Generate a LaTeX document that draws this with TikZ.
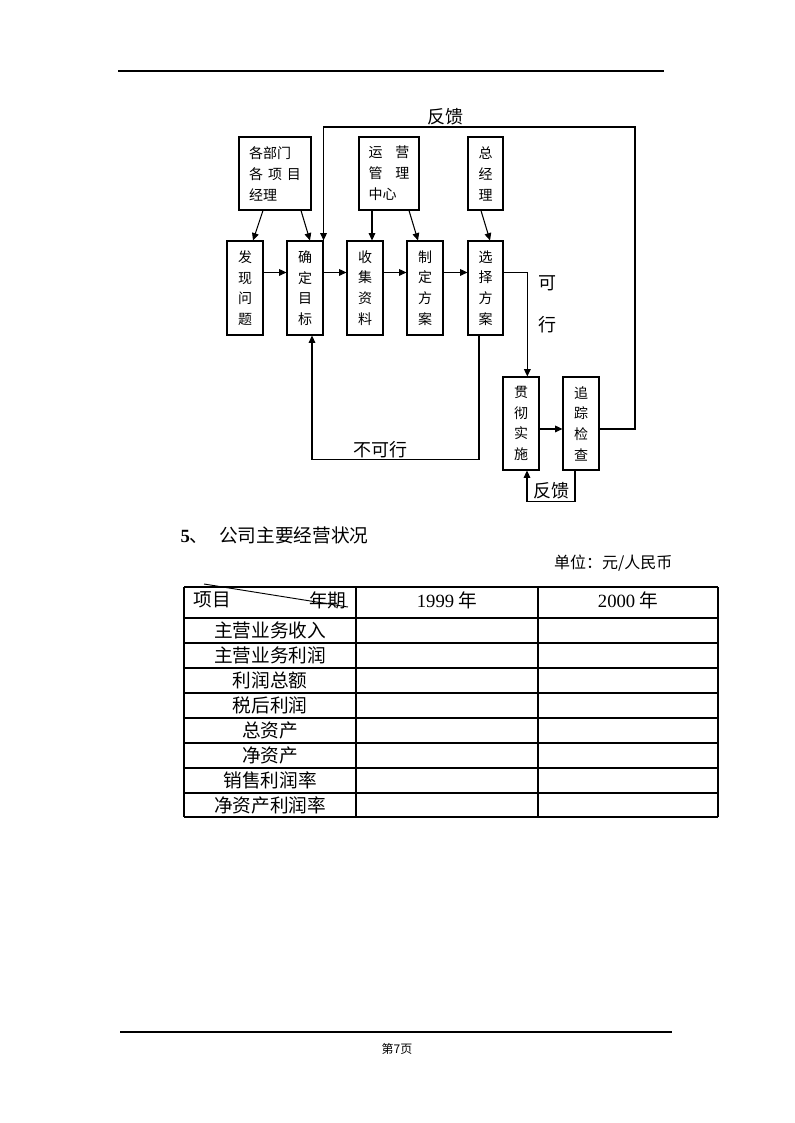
\documentclass[tikz,border=0pt]{standalone}
\usepackage{fontspec}
\setmainfont{Liberation Serif}
\newfontfamily\cjk{Noto Sans CJK SC}
\usetikzlibrary{arrows.meta}
\begin{document}
\begin{tikzpicture}[x=0.75pt,y=-0.75pt, line width=0.8pt,
  box/.style={draw, inner sep=0pt, font=\cjk\fontsize{10.5}{15.5}\selectfont, align=center,
              minimum width=27pt, minimum height=70.5pt},
  topbox/.style={box, minimum height=54.75pt, font=\cjk\fontsize{10.5}{15.75}\selectfont},
  arr/.style={-{Triangle[length=5.5pt,width=5pt]}},
  lbl/.style={font=\cjk\fontsize{13.5}{16}\selectfont, inner sep=0pt},
  cell/.style={font=\cjk\fontsize{14}{16}\selectfont, inner sep=0pt},
  tline/.style={line width=0.8pt}]
\useasboundingbox (0,0) rectangle (794,1123);

% header / footer rules
\coordinate (hl) at (118,71);
\coordinate (hr) at (664,71);
\draw (hl) -- (hr);
\coordinate (fl) at (120,1032);
\coordinate (fr) at (672,1032);
\draw (fl) -- (fr);
\node[font=\cjk\fontsize{9}{10}\selectfont, inner sep=0pt] (page) at (397,1049) {第7页};

% top boxes
\node[topbox, minimum width=54pt, align=left] (A) at (275,173.5) {各部门\\各\hspace{0.35em}项\hspace{0.35em}目\\经理};
\node[topbox, minimum width=45pt, align=left] (B) at (389,173.5) {运\hspace{0.9em}营\\管\hspace{0.9em}理\\中心};
\node[topbox, minimum width=26.25pt] (C) at (485.5,173.5) {总\\经\\理};

% row boxes
\node[box] (D) at (245,288) {发\\现\\问\\题};
\node[box] (E) at (305,288) {确\\定\\目\\标};
\node[box] (F) at (365,288) {收\\集\\资\\料};
\node[box] (G) at (425,288) {制\\定\\方\\案};
\node[box, minimum width=26.25pt] (H) at (485.5,288) {选\\择\\方\\案};
\node[box, minimum height=69.75pt] (I) at (521,423.5) {贯\\彻\\实\\施};
\node[box, minimum height=69.75pt] (J) at (581,423.5) {追\\踪\\检\\查};

% arrows from top boxes
\draw[arr] ([xshift=-9pt]A.south) -- ([xshift=6pt]D.north);
\draw[arr] ([xshift=19.5pt]A.south) -- ([xshift=3.75pt]E.north);
\draw[arr] ([xshift=-12.75pt]B.south) -- ([xshift=5.25pt]F.north);
\draw[arr] ([xshift=15pt]B.south) -- ([xshift=-5.25pt]G.north);
\draw[arr] ([xshift=-3.4pt]C.south) -- ([xshift=3.4pt]H.north);

% main flow
\draw[arr] ([yshift=-24pt]D.north east) -- ([yshift=-24pt]E.north west);
\draw[arr] ([yshift=-24pt]E.north east) -- ([yshift=-24pt]F.north west);
\draw[arr] ([yshift=-24pt]F.north east) -- ([yshift=-24pt]G.north west);
\draw[arr] ([yshift=-24pt]G.north east) -- ([yshift=-24pt]H.north west);
\draw[arr] ([yshift=-24pt]H.north east) -| ([xshift=4.75pt]I.north);
\draw[arr] ([yshift=-4.1pt]I.east) -- ([yshift=-4.1pt]J.west);

% big feedback loop
\coordinate (fbR) at (635,127);
\draw[arr] ([yshift=-4.1pt]J.east) -| (fbR) -| (E.north east);
% not feasible loop
\draw[arr] ([xshift=-4.9pt]H.south) -- ++(0,124) -| ([xshift=5.25pt]E.south);
% small feedback loop
\draw[arr] ([xshift=-4.5pt]J.south) -- ++(0,31) -| ([xshift=4.5pt]I.south);

% labels
\node[lbl] (fb1) at (445,117) {反馈};
\node[lbl] (ke) at (547,283) {可};
\node[lbl] (xing) at (547,325) {行};
\node[lbl] (bkx) at (380,450) {不可行};
\node[lbl] (fb2) at (551,491) {反馈};

% section title
\node[anchor=west, inner sep=0pt, font=\fontsize{14}{16}\selectfont] (title) at (180,535)
  {\textbf{5}{\cjk 、}\hspace{8pt}{\cjk 公司主要经营状况}};
\node[anchor=east, inner sep=0pt, font=\cjk\fontsize{12}{14}\selectfont] (unit) at (673,563) {单位：元/人民币};

% table
\foreach \y in {587,618,643,668,693,718,743,768,793,817} \draw[tline] (184,\y) -- (718,\y);
\foreach \x in {184,356,538,718} \draw[tline] (\x,587) -- (\x,817);
\coordinate (dg1) at (204,584);
\coordinate (dg2) at (348,607);
\draw[line width=0.7pt] (dg1) -- (dg2);
\node[cell, anchor=west] (hxm) at (193,600) {项目};
\node[cell, anchor=east] (hnq) at (347,600) {年期};
\node[cell] (h1999) at (447,600) {{\rmfamily 1999} 年};
\node[cell] (h2000) at (628,600) {{\rmfamily 2000} 年};
\node[cell] (r1) at (270,630.5) {主营业务收入};
\node[cell] (r2) at (270,655.5) {主营业务利润};
\node[cell] (r3) at (270,680.5) {利润总额};
\node[cell] (r4) at (270,705.5) {税后利润};
\node[cell] (r5) at (270,730.5) {总资产};
\node[cell] (r6) at (270,755.5) {净资产};
\node[cell] (r7) at (270,780.5) {销售利润率};
\node[cell] (r8) at (270,805) {净资产利润率};
\end{tikzpicture}
\end{document}
